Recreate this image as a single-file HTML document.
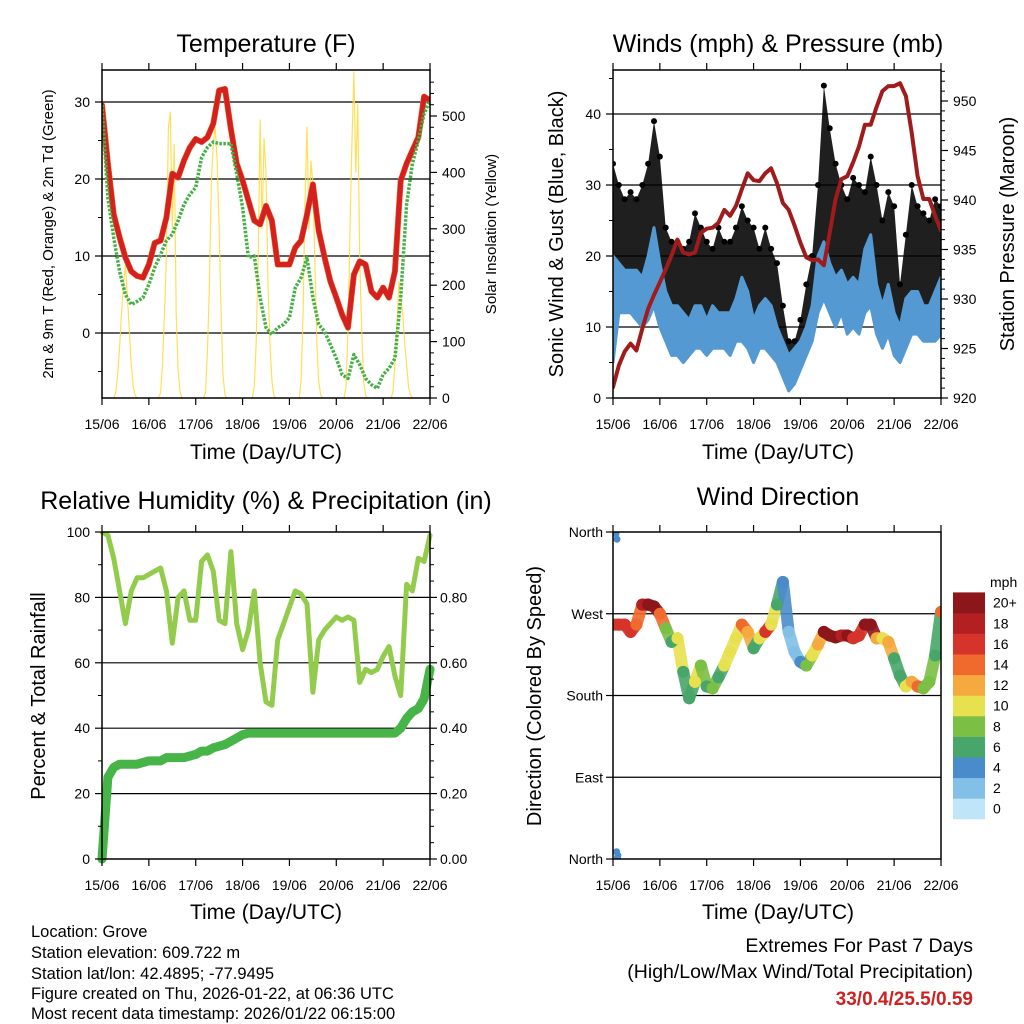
<!DOCTYPE html>
<html><head><meta charset="utf-8"><style>
html,body{margin:0;padding:0;background:#fff;}
svg{display:block;font-family:"Liberation Sans",Arial,sans-serif;}
</style></head><body>
<svg id="root" width="1024" height="1024" viewBox="0 0 1024 1024" xmlns="http://www.w3.org/2000/svg">
<g id="texts">
<text x="266" y="52" font-size="25" text-anchor="middle">Temperature (F)</text>
<text x="778" y="52" font-size="25" text-anchor="middle">Winds (mph) &amp; Pressure (mb)</text>
<text x="266" y="509" font-size="25" text-anchor="middle">Relative Humidity (%) &amp; Precipitation (in)</text>
<text x="778" y="505" font-size="25" text-anchor="middle">Wind Direction</text>
<text x="266" y="459" font-size="21" text-anchor="middle">Time (Day/UTC)</text>
<text x="778" y="459" font-size="21" text-anchor="middle">Time (Day/UTC)</text>
<text x="266" y="919" font-size="21" text-anchor="middle">Time (Day/UTC)</text>
<text x="778" y="919" font-size="21" text-anchor="middle">Time (Day/UTC)</text>
<text transform="translate(53,234) rotate(-90)" font-size="15" text-anchor="middle">2m &amp; 9m T (Red, Orange) &amp; 2m Td (Green)</text>
<text transform="translate(496,234) rotate(-90)" font-size="15" text-anchor="middle">Solar Insolation (Yellow)</text>
<text transform="translate(563,234) rotate(-90)" font-size="20" text-anchor="middle">Sonic Wind &amp; Gust (Blue, Black)</text>
<text transform="translate(1014,234) rotate(-90)" font-size="20" text-anchor="middle">Station Pressure (Maroon)</text>
<text transform="translate(45,696) rotate(-90)" font-size="20" text-anchor="middle">Percent &amp; Total Rainfall</text>
<text transform="translate(541,696) rotate(-90)" font-size="20" text-anchor="middle">Direction (Colored By Speed)</text>
<g font-size="16.5">
<text x="31" y="937">Location: Grove</text>
<text x="31" y="958">Station elevation: 609.722 m</text>
<text x="31" y="979">Station lat/lon: 42.4895; -77.9495</text>
<text x="31" y="999">Figure created on Thu, 2026-01-22, at 06:36 UTC</text>
<text x="31" y="1019">Most recent data timestamp: 2026/01/22 06:15:00</text>
</g>
<text x="973" y="952" font-size="19.5" text-anchor="end">Extremes For Past 7 Days</text>
<text x="973" y="978" font-size="19.5" text-anchor="end">(High/Low/Max Wind/Total Precipitation)</text>
<text x="973" y="1005" font-size="19" font-weight="bold" fill="#cc2222" text-anchor="end">33/0.4/25.5/0.59</text>
<text x="990" y="587" font-size="14">mph</text>
</g>
</svg>
<script>
const dayLabels=['15/06','16/06','17/06','18/06','19/06','20/06','21/06','22/06'];
const tHours=[0,3,6,9,12,15,18,21,24,27,30,33,36,39,42,45,48,51,54,57,60,63,66,69,72,75,78,81,84,87,90,93,96,99,102,105,108,111,114,117,120,123,126,129,132,135,138,141,144,147,150,153,156,159,162,165,168];
const tempRed=[29.6,22,15.4,12.4,9.8,8,7.4,7.2,8.9,11.7,12,15,20.7,20.2,22.4,24.1,25.2,24.8,25.4,27.2,31.5,31.7,26.5,22,19.8,17.2,14.6,14.1,16.5,14.6,8.9,8.9,8.9,11.1,12,15.4,19.3,13.3,9.8,6.7,4.6,2.4,0.7,7.6,9.3,8.9,5.4,4.6,5.9,4.6,8,19.8,22,23.7,25.4,30.7,30.2];
const dewGreen=[29.6,17.6,12.4,8,5,3.7,4.1,4.6,6.3,8.5,10.2,12,12.8,14.6,16.7,18,18.9,22.8,24.1,24.8,24.6,24.6,24.6,20.7,16.3,9.8,10,4.6,0.7,-0.2,0.7,1.1,2,5.9,7.2,9.8,4.6,1.1,0.2,-1.5,-3.3,-5.4,-5.9,-2.8,-4.1,-5.9,-6.7,-7.2,-5.4,-4.6,-3.3,4.6,16.7,22,25,28.5,30.2];
const solarDayStart=[7,30,53,78,102,125,149];
const solarDayVals=[[10,40,90,150,200,236,180,120,60,20,5],[10,60,150,250,480,507,300,450,150,50,10],[10,80,200,380,450,480,420,300,150,40,5],[20,100,250,493,300,460,400,200,100,30,5],[30,150,350,480,300,420,380,250,100,30,5],[20,120,300,450,578,400,520,250,120,30,5],[10,60,120,206,180,150,100,60,20,5,0]];
const pressure=[921.1,923.3,924.7,925.5,924.8,927,929,930.4,931.7,933,934.4,936,934.7,934.5,934.7,936.7,937.1,937.2,937.7,939,938.4,939.4,941.1,942.7,942,941.9,942.7,943.2,941.7,939.7,939,937.4,935.7,934.2,933.9,934,933.4,936.7,940.1,942.1,942.4,943.8,945.4,947.6,947.6,949.4,951,951.5,951.5,951.8,950.5,946.8,942.4,940.1,940.1,938.4,936.9];
const windLo=[5,12,12,12,11,10,11,13,10,8,6,6,5,6,7,7,6,7,7,7,6,8,8,7,5,7,7,6,5,3,1,2,4,6,8,12,14,12,10,12,9,10,9,12,13,9,7,9,6,5,7,9,9,8,8,8,9];
const windHi=[20,19,18,18,18,17,20,24,19,15,13,13,12,11,13,13,11,13,12,12,12,14,17,15,11,13,14,13,10,8,6,7,8,10,13,20,22,19,17,18,16,17,16,21,23,16,13,16,12,10,14,15,15,13,13,15,17];
const gustLo=[8,14,16,15,14,13,15,16,14,10,8,9,8,10,11,10,9,9,9,10,10,10,12,10,9,10,11,10,9,5,3,4,5,7,10,15,18,16,15,16,13,15,14,16,16,12,11,11,9,8,10,14,14,12,11,12,13];
const gustHi=[33,30,28,29,28,30,33,39,34,24,22,22,21,22,26,24,22,21,24,22,22,24,27,25,24,21,24,21,19,13,8,8,11,16,20,30,44,38,33,30,28,31,30,29,34,30,25,29,27,16,23,30,27,26,25,28,27];
const rhVals=[100,99,92,82,72,82,86,86,87,88,89,82,66,80,82,73,73,91,93,88,73,72,94,72,64,70,82,60,48,47,67,72,77,82,81,78,51,67,70,72,74,73,74,73,54,58,57,58,62,65,56,50,84,82,92,91,99];
const precipVals=[0,0.25,0.28,0.29,0.29,0.29,0.29,0.295,0.30,0.30,0.30,0.31,0.31,0.31,0.31,0.315,0.32,0.33,0.33,0.34,0.345,0.35,0.36,0.37,0.38,0.385,0.385,0.385,0.385,0.385,0.385,0.385,0.385,0.385,0.385,0.385,0.385,0.385,0.385,0.385,0.385,0.385,0.385,0.385,0.385,0.385,0.385,0.385,0.385,0.385,0.385,0.40,0.43,0.45,0.46,0.49,0.58];
const dirVals=[258,258,258,250,258,280,280,278,270,254,239,243,206,177,195,213,190,188,200,213,228,243,258,250,232,243,250,258,280,305,250,228,217,213,224,236,250,246,244,246,246,243,246,258,258,243,243,239,221,202,190,195,190,188,195,224,272];
const dirSpeed=[16,16,17,17,15,18,20,20,14,9,7,10,6,6,11,8,7,8,7,10,10,11,14,12,7,11,16,11,7,4,3,3,5,8,10,13,20,20,20,19,20,17,17,20,20,12,10,13,7,6,10,13,14,9,8,7,15];
const northHours=[0,0.5,1,0.3,0.8];
const northDirs=[358,352,4,8,2];
const speedBins=[0,2,4,6,8,10,12,14,16,18,20];
const speedLabels=['0','2','4','6','8','10','12','14','16','18','20+'];
const speedColors=['#bfe6f8','#82c0e8','#4a8ccb','#48a66a','#7bbf45','#e7e04f','#f6a93f','#ef6a2c','#d6332a','#b41f22','#8c1619'];

const NS='http://www.w3.org/2000/svg';
const root=document.getElementById('root');
function mk(tag,attrs,parent){const e=document.createElementNS(NS,tag);for(const k in attrs)e.setAttribute(k,attrs[k]);(parent||root).appendChild(e);return e;}
function lin(d0,d1,r0,r1){return v=>r0+(v-d0)*(r1-r0)/(d1-d0);}

function axesFrame(g,x0,x1,y0,y1,xs){
  for(let d=0;d<dayLabels.length;d++){
    const x=xs(d*24);
    const tb=mk('line',{x1:x,x2:x,y1:y1,y2:y1+7,stroke:'#000','stroke-width':1.2},g);
    
    
    const tt=mk('line',{x1:x,x2:x,y1:y0,y2:y0-7,stroke:'#000','stroke-width':1.2},g);
    
    
    const t=mk('text',{x:x,y:y1+31,'font-size':14,'text-anchor':'middle'},g);
    t.textContent=dayLabels[d];
    
    
  }
}
function yTicks(g,side,x,vals,ys,labels,minor,xOff){
  const dir=side==='left'?-1:1;
  vals.forEach((v,i)=>{
    const y=ys(v);
    const tk=mk('line',{x1:x,x2:x+dir*7,y1:y,y2:y,stroke:'#000','stroke-width':1.2},g);
    
    
    if(labels){
      const t=mk('text',{x:x+dir*(xOff||12),y:y+5,'font-size':14,'text-anchor':side==='left'?'end':'start'},g);
      t.textContent=labels[i];
      
      
    }
  });
  (minor||[]).forEach(v=>{
    const y=ys(v);
    const tk=mk('line',{x1:x,x2:x+dir*4,y1:y,y2:y,stroke:'#000','stroke-width':1},g);
    
    
  });
}
function grid(g,x0,x1,vals,ys){
  vals.forEach(v=>{const gl=mk('line',{x1:x0,x2:x1,y1:ys(v),y2:ys(v),stroke:'#000','stroke-width':1.2},g);
    
    });
}
function border(g,x0,x1,y0,y1){
  const b=mk('rect',{x:x0,y:y0,width:x1-x0,height:y1-y0,fill:'none',stroke:'#000','stroke-width':1.5},g);
  
  
}
function path(g,pts,attrs,name){
  const p=mk('path',Object.assign({d:'M'+pts.map(p=>p[0].toFixed(1)+','+p[1].toFixed(1)).join('L'),fill:'none','stroke-linejoin':'round','stroke-linecap':'round'},attrs),g);
  
  
  return p;
}
function range(a,b,s){const r=[];for(let v=a;v<=b+1e-9;v+=s)r.push(+v.toFixed(3));return r;}

// Panel 1
(function(){
  const x0=102,x1=430,y0=70,y1=398;
  const g=mk('g',{});
  
  
  const xs=lin(0,168,x0,x1);
  const ys=lin(0,30,333,102);
  const ysS=lin(0,500,398,116);
  const cp=mk('clipPath',{id:'c1'},g);mk('rect',{x:x0,y:y0,width:x1-x0,height:y1-y0},cp);
  const pg=mk('g',{'clip-path':'url(#c1)'},g);
  grid(pg,x0,x1,[0,10,20,30],ys);
  solarDayStart.forEach((s,di)=>{
    const pts=[[xs(s-1),ysS(0)]];
    solarDayVals[di].forEach((v,i)=>pts.push([xs(s+i),ysS(v)]));
    pts.push([xs(s+solarDayVals[di].length),ysS(0)]);
    path(pg,pts,{stroke:'#ffd93a','stroke-width':1.2,'stroke-opacity':0.85},'solar-insolation-day');
  });
  path(pg,tHours.map((t,i)=>[xs(t),ys(tempRed[i])]),{stroke:'#f07020','stroke-width':6},'temp-9m-line');
  path(pg,tHours.map((t,i)=>[xs(t),ys(tempRed[i])]),{stroke:'#d42020','stroke-width':5},'temp-2m-line');
  path(pg,tHours.map((t,i)=>[xs(t),ys(dewGreen[i])]),{stroke:'#44b044','stroke-width':3.5,'stroke-dasharray':'2.5 1.5','stroke-linecap':'butt'},'dewpoint-line');
  axesFrame(g,x0,x1,y0,y1,xs);
  yTicks(g,'left',x0,[0,10,20,30],ys,['0','10','20','30'],[-5,5,15,25],12);
  yTicks(g,'right',x1,[0,100,200,300,400,500],ysS,['0','100','200','300','400','500'],range(20,560,20).filter(v=>v%100),12);
  border(g,x0,x1,y0,y1);
})();

// Panel 2
(function(){
  const x0=613,x1=941,y0=70,y1=398;
  const g=mk('g',{});
  
  
  const xs=lin(0,168,x0,x1);
  const ys=lin(0,40,398,114);
  const ysP=lin(920,950,398,101);
  const cp=mk('clipPath',{id:'c2'},g);mk('rect',{x:x0,y:y0,width:x1-x0,height:y1-y0},cp);
  const pg=mk('g',{'clip-path':'url(#c2)'},g);
  grid(pg,x0,x1,[10,20,30,40],ys);
  const gb=tHours.map((t,i)=>[xs(t),ys(gustHi[i])]).concat(tHours.map((t,i)=>[xs(t),ys(gustLo[i])]).reverse());
  const gp=mk('path',{d:'M'+gb.map(p=>p.join(',')).join('L')+'Z',fill:'#000','fill-opacity':0.88},pg);
  
  
  tHours.forEach((t,i)=>{
    const c=mk('circle',{cx:xs(t),cy:ys(gustHi[i]),r:3,fill:'#000'},pg);
    
    
  });
  const wb=tHours.map((t,i)=>[xs(t),ys(windHi[i])]).concat(tHours.map((t,i)=>[xs(t),ys(windLo[i])]).reverse());
  const wp=mk('path',{d:'M'+wb.map(p=>p.join(',')).join('L')+'Z',fill:'#5599d2',stroke:'#5599d2','stroke-width':3,'stroke-linejoin':'round'},pg);
  
  
  path(pg,tHours.map((t,i)=>[xs(t),ysP(pressure[i])]),{stroke:'#a01c1c','stroke-width':4},'pressure-line');
  axesFrame(g,x0,x1,y0,y1,xs);
  yTicks(g,'left',x0,[0,10,20,30,40],ys,['0','10','20','30','40'],[5,15,25,35,45],12);
  yTicks(g,'right',x1,[920,925,930,935,940,945,950],ysP,['920','925','930','935','940','945','950'],range(921,953,1).filter(v=>v%5),12);
  border(g,x0,x1,y0,y1);
})();

// Panel 3
(function(){
  const x0=102,x1=430,y0=532,y1=859;
  const g=mk('g',{});
  
  
  const xs=lin(0,168,x0,x1);
  const ys=lin(0,100,y1,y0);
  const ysR=lin(0,1,y1,y0);
  const cp=mk('clipPath',{id:'c3'},g);mk('rect',{x:x0-6,y:y0,width:x1-x0+12,height:y1-y0+6},cp);
  const pg=mk('g',{'clip-path':'url(#c3)'},g);
  grid(pg,x0,x1,[20,40,60,80],ys);
  path(pg,tHours.map((t,i)=>[xs(t),ys(rhVals[i])]),{stroke:'#93cc4c','stroke-width':5},'humidity-line');
  path(pg,tHours.map((t,i)=>[xs(t),ysR(precipVals[i])]),{stroke:'#46b446','stroke-width':9},'precipitation-line');
  axesFrame(g,x0,x1,y0,y1,xs);
  yTicks(g,'left',x0,[0,20,40,60,80,100],ys,['0','20','40','60','80','100'],[10,30,50,70,90],12);
  yTicks(g,'right',x1,[0,0.2,0.4,0.6,0.8],ysR,['0.00','0.20','0.40','0.60','0.80'],[0.05,0.1,0.15,0.25,0.3,0.35,0.45,0.5,0.55,0.65,0.7,0.75,0.85,0.9,0.95],10);
  border(g,x0,x1,y0,y1);
})();

// Panel 4
(function(){
  const x0=613,x1=941,y0=532,y1=859;
  const g=mk('g',{});
  
  
  const xs=lin(0,168,x0,x1);
  const ys=lin(0,360,y1,y0);
  const col=s=>{let k=0;for(let i=0;i<speedBins.length;i++)if(s>=speedBins[i])k=i;return speedColors[k];};
  const cp=mk('clipPath',{id:'c4'},g);mk('rect',{x:x0,y:y0,width:x1-x0,height:y1-y0},cp);
  const pg=mk('g',{'clip-path':'url(#c4)'},g);
  grid(pg,x0,x1,[90,180,270],ys);
  for(let i=0;i<tHours.length-1;i++){
    const s=mk('line',{x1:xs(tHours[i]),y1:ys(dirVals[i]),x2:xs(tHours[i+1]),y2:ys(dirVals[i+1]),stroke:col(dirSpeed[i]),'stroke-width':12,'stroke-linecap':'round','stroke-opacity':0.9},pg);
    
    
  }
  tHours.forEach((t,i)=>{
    const c=mk('circle',{cx:xs(t),cy:ys(dirVals[i]),r:6,fill:col(dirSpeed[i])},pg);
    
    
  });
  northHours.forEach((t,i)=>{
    const c=mk('circle',{cx:xs(t)+3,cy:ys(northDirs[i]),r:3.5,fill:'#4a8ccb'},pg);
    
    
  });
  axesFrame(g,x0,x1,y0,y1,xs);
  yTicks(g,'left',x0,[0,90,180,270,360],ys,['North','East','South','West','North'],[],10);
  border(g,x0,x1,y0,y1);
  const cb=mk('g',{},g);
  
  
  const bh=20.6,by=819;
  speedColors.forEach((c,i)=>{
    const r=mk('rect',{x:953,y:by-(i+1)*bh,width:32,height:bh+0.3,fill:c},cb);
    
    
    const t=mk('text',{x:993,y:by-(i+0.5)*bh+5,'font-size':14},cb);
    t.textContent=speedLabels[i];
    
    
  });
})();
</script>
</body></html>
